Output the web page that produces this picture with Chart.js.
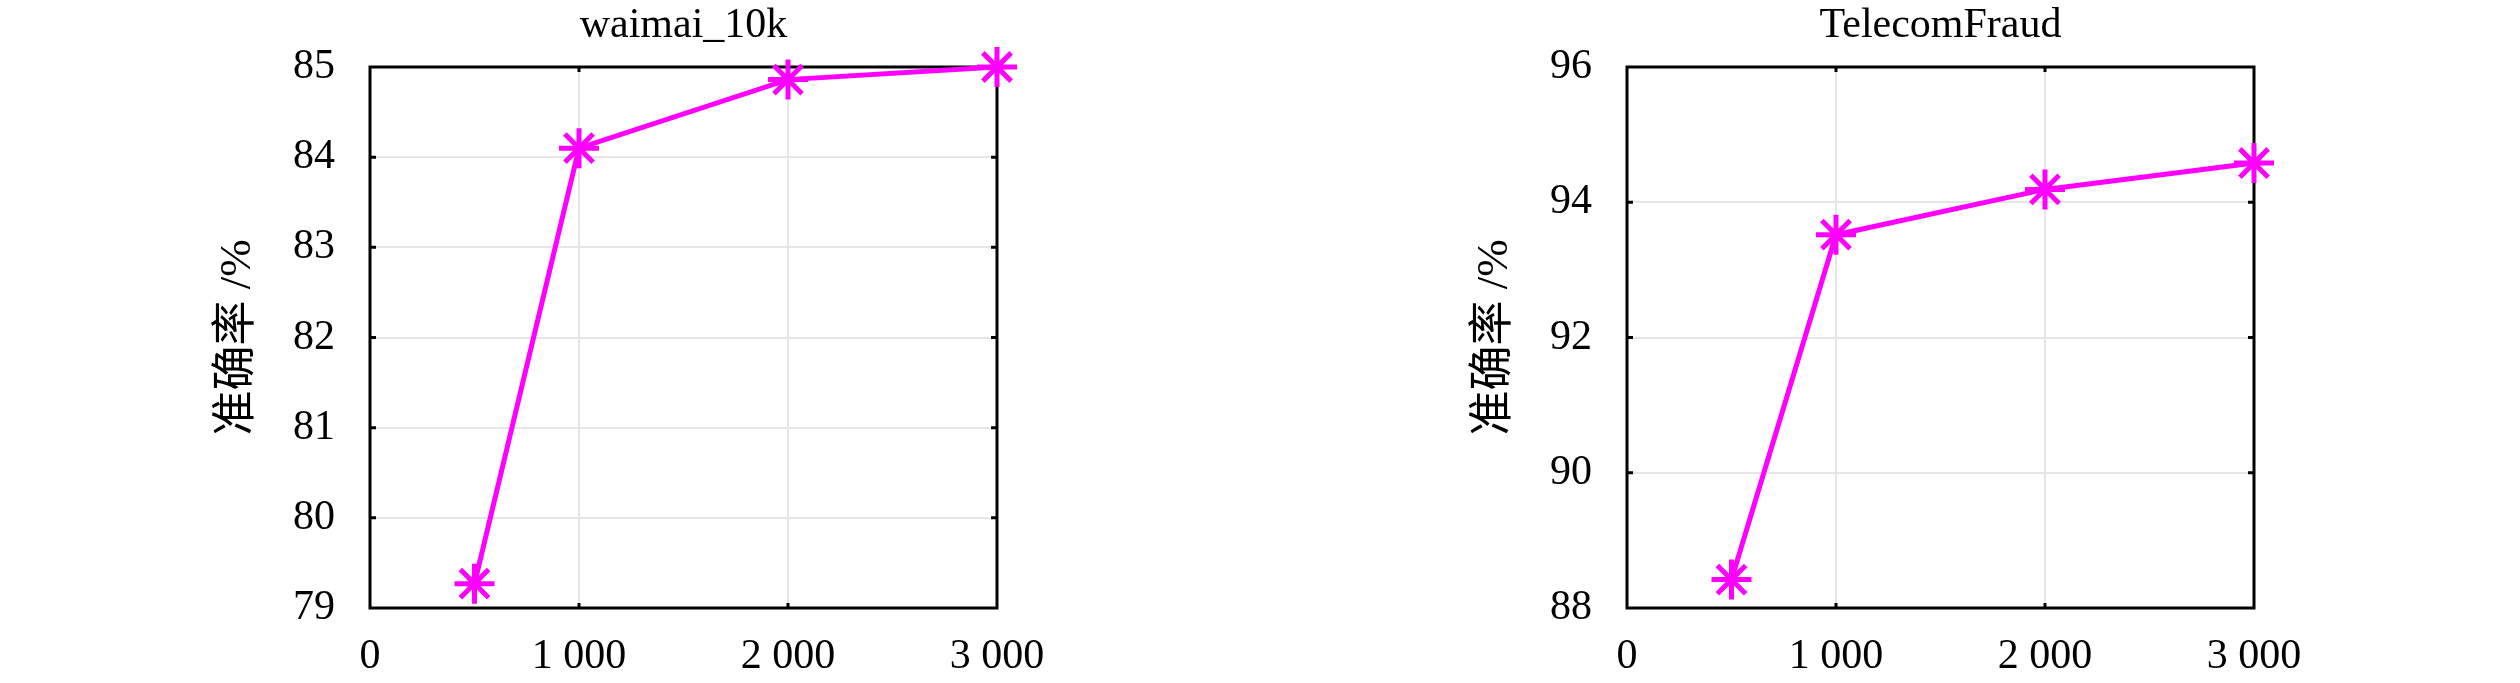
<!DOCTYPE html>
<html>
<head>
<meta charset="utf-8">
<script src="https://cdn.jsdelivr.net/npm/chart.js@4/dist/chart.umd.min.js"></script>
<style>
  body { margin: 0; background: #fff; }
  canvas { position: absolute; top: 0; }
</style>
</head>
<body>
<canvas id="waimai" width="1260" height="683" style="left:0"></canvas>
<canvas id="telecom" width="1260" height="683" style="left:1257px"></canvas>
<script>
// data
const sampleSizes = [500, 1000, 2000, 3000];
const waimaiAcc = [79.27, 84.1, 84.86, 85.0];
const telecomAcc = [88.42, 93.52, 94.19, 94.58];
const xTickValues = [0, 1000, 2000, 3000];
const waimaiTicks = [79, 80, 81, 82, 83, 84, 85];
const telecomTicks = [88, 90, 92, 94, 96];
const yLabel = '准确率 /%';

Chart.defaults.font.family = "'Liberation Serif', 'Noto Sans CJK SC', serif";
Chart.defaults.color = '#000';

// black frame plus small inward tick marks on all four sides
const framePlugin = {
    id: 'frame',
    beforeDatasetsDraw(chart) {
        const {ctx, chartArea: a, scales} = chart;
        ctx.save();
        ctx.strokeStyle = '#000';
        ctx.lineWidth = 3;
        ctx.beginPath();
        scales.y.ticks.forEach(t => {
            if (t.value === scales.y.min || t.value === scales.y.max) return;
            const py = scales.y.getPixelForValue(t.value);
            ctx.moveTo(a.left, py); ctx.lineTo(a.left + 6, py);
            ctx.moveTo(a.right, py); ctx.lineTo(a.right - 6, py);
        });
        scales.x.ticks.forEach(t => {
            if (t.value === scales.x.min || t.value === scales.x.max) return;
            const px = scales.x.getPixelForValue(t.value);
            ctx.moveTo(px, a.top); ctx.lineTo(px, a.top + 5);
            ctx.moveTo(px, a.bottom); ctx.lineTo(px, a.bottom - 5);
        });
        ctx.stroke();
        ctx.strokeRect(a.left, a.top, a.right - a.left, a.bottom - a.top);
        ctx.restore();
    }
};

function fmt(v) {
    return String(v).replace(/\B(?=(\d{3})+(?!\d))/g, ' ');
}

function makeChart(id, title, values, yTicks) {
    new Chart(document.getElementById(id), {
        type: 'line',
        data: {
            datasets: [{
                data: sampleSizes.map((x, i) => ({x: x, y: values[i]})),
                borderColor: '#ff00ff',
                backgroundColor: '#ff00ff',
                borderWidth: 5,
                pointStyle: 'star',
                pointRadius: 20,
                pointBorderWidth: 5,
                pointBorderColor: '#ff00ff',
                tension: 0,
                clip: false
            }]
        },
        options: {
            responsive: false,
            animation: false,
            layout: { padding: { left: 200, right: 263, top: 0, bottom: 0 } },
            plugins: {
                legend: { display: false },
                tooltip: { enabled: false },
                title: {
                    display: true,
                    text: title,
                    fullSize: false,
                    font: { size: 42, weight: 'normal' },
                    padding: { top: 1, bottom: 15.6 }
                }
            },
            scales: {
                x: {
                    type: 'linear',
                    min: xTickValues[0],
                    max: xTickValues[xTickValues.length - 1],
                    afterBuildTicks: s => { s.ticks = xTickValues.map(v => ({value: v})); },
                    afterFit: s => { s.height = 75; },
                    border: { display: false },
                    grid: { color: '#e6e6e6', lineWidth: 2, drawTicks: false },
                    ticks: { padding: 24, font: { size: 42 }, callback: v => fmt(v) }
                },
                y: {
                    min: yTicks[0],
                    max: yTicks[yTicks.length - 1],
                    afterBuildTicks: s => { s.ticks = yTicks.map(v => ({value: v})); },
                    afterFit: s => { s.width = 170; },
                    border: { display: false },
                    grid: { color: '#e6e6e6', lineWidth: 2, drawTicks: false },
                    ticks: { padding: 35, font: { size: 42 } },
                    title: {
                        display: true,
                        text: yLabel,
                        font: { size: 45 },
                        padding: { top: 11, bottom: 0 }
                    }
                }
            }
        },
        plugins: [framePlugin]
    });
}

makeChart('waimai', 'waimai_10k', waimaiAcc, waimaiTicks);
makeChart('telecom', 'TelecomFraud', telecomAcc, telecomTicks);
</script>
</body>
</html>
